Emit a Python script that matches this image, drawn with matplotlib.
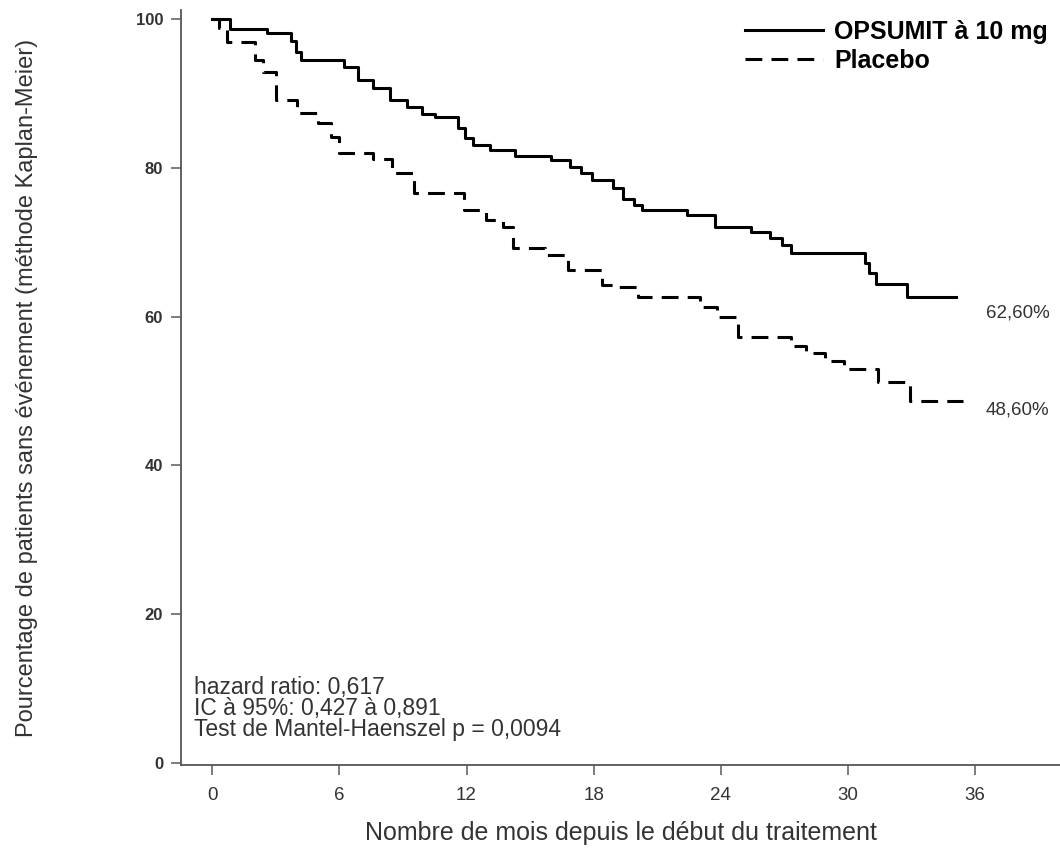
import numpy as np
import matplotlib
matplotlib.use("Agg")
import matplotlib.pyplot as plt

plt.rcParams["font.family"] = ["Liberation Sans", "DejaVu Sans"]

# Kaplan-Meier steps (months, % without event)
opsumit_t = [0, 0.85, 2.6, 3.7, 3.95, 4.2, 6.2, 6.9, 7.6, 8.4, 9.2, 9.9, 10.5, 11.6,
             11.95, 12.3, 13.1, 14.3, 16.0, 16.9, 17.4, 17.9, 18.9, 19.4, 19.9, 20.3,
             22.4, 23.7, 25.4, 26.3, 26.9, 27.3, 30.8, 31.0, 31.3, 32.8, 35.1]
opsumit_v = [100, 98.7, 98.1, 97.0, 95.6, 94.5, 93.6, 91.8, 90.7, 89.1, 88.2, 87.3, 86.8, 85.3,
             84.0, 83.1, 82.4, 81.6, 81.0, 80.1, 79.3, 78.4, 77.3, 75.8, 75.0, 74.3,
             73.7, 72.0, 71.4, 70.6, 69.6, 68.6, 67.2, 65.9, 64.4, 62.6, 62.6]

placebo_t = [0, 0.3, 0.7, 2.0, 2.4, 3.0, 4.0, 5.0, 5.6, 6.0, 7.6, 8.5, 9.5, 11.9, 12.9,
             13.7, 14.2, 15.7, 16.8, 18.4, 18.9, 20.1, 23.0, 23.8, 24.8, 27.3, 28.0, 28.9,
             29.8, 31.4, 32.9, 35.4]
placebo_v = [100, 98.8, 96.9, 94.5, 92.9, 89.1, 87.4, 86.0, 84.1, 82.0, 81.2, 79.3, 76.6, 74.3, 73.0,
             72.0, 69.2, 68.3, 66.3, 64.2, 64.0, 62.6, 61.3, 59.9, 57.3, 56.0, 55.1, 54.0,
             52.9, 51.2, 48.6, 48.6]

series_labels = ["OPSUMIT à 10 mg", "Placebo"]
end_labels = ["62,60%", "48,60%"]
end_label_pos = [60.5, 47.4]
x_ticks = [0, 6, 12, 18, 24, 30, 36]
y_ticks = [0, 20, 40, 60, 80, 100]
stats_text = "hazard ratio: 0,617\nIC à 95%: 0,427 à 0,891\nTest de Mantel-Haenszel p = 0,0094"

fig = plt.figure(figsize=(10.6, 8.5), dpi=100)
ax = fig.add_axes([0.171, 0.1, 0.829, 0.888])

ax.step(opsumit_t, opsumit_v, where="post", color="black", lw=2.2, label=series_labels[0])
ax.step(placebo_t, placebo_v, where="post", color="black", lw=2.2,
        ls=(0, (5.5, 3)), label=series_labels[1])

for txt, yv in zip(end_labels, end_label_pos):
    ax.text(36.5, yv, txt, fontsize=13.5, color="#333333", va="center", ha="left")

ax.text(-0.85, 2.9, stats_text, fontsize=16.5, color="#333333", va="bottom", ha="left",
        linespacing=0.9)

ax.set_xlim(-1.46, 40)
ax.set_ylim(-0.3, 101.2)
ax.set_xticks(x_ticks)
ax.set_yticks(y_ticks)
ax.tick_params(axis="x", direction="out", length=7, width=1.2, color="#666666",
               labelsize=13.5, labelcolor="#333333", pad=9)
ax.tick_params(axis="y", direction="out", length=7, width=1.2, color="#666666",
               labelsize=12, labelcolor="#333333", pad=6)
for lab in ax.get_yticklabels():
    lab.set_fontweight("bold")

for side in ["top", "right"]:
    ax.spines[side].set_visible(False)
for side in ["left", "bottom"]:
    ax.spines[side].set_color("#555555")
    ax.spines[side].set_linewidth(1.3)

ax.set_xlabel("Nombre de mois depuis le début du traitement", fontsize=18,
              color="#333333", labelpad=12)
ax.set_ylabel("Pourcentage de patients sans événement (méthode Kaplan-Meier)", fontsize=17,
              color="#333333", labelpad=70)

leg = ax.legend(loc="upper right", bbox_to_anchor=(0.998, 0.988), bbox_transform=fig.transFigure,
                frameon=False, prop={"weight": "bold", "size": 18}, handlelength=3.1,
                handletextpad=0.45, labelspacing=0.2, borderaxespad=0)

fig.savefig("out.png", dpi=100)
